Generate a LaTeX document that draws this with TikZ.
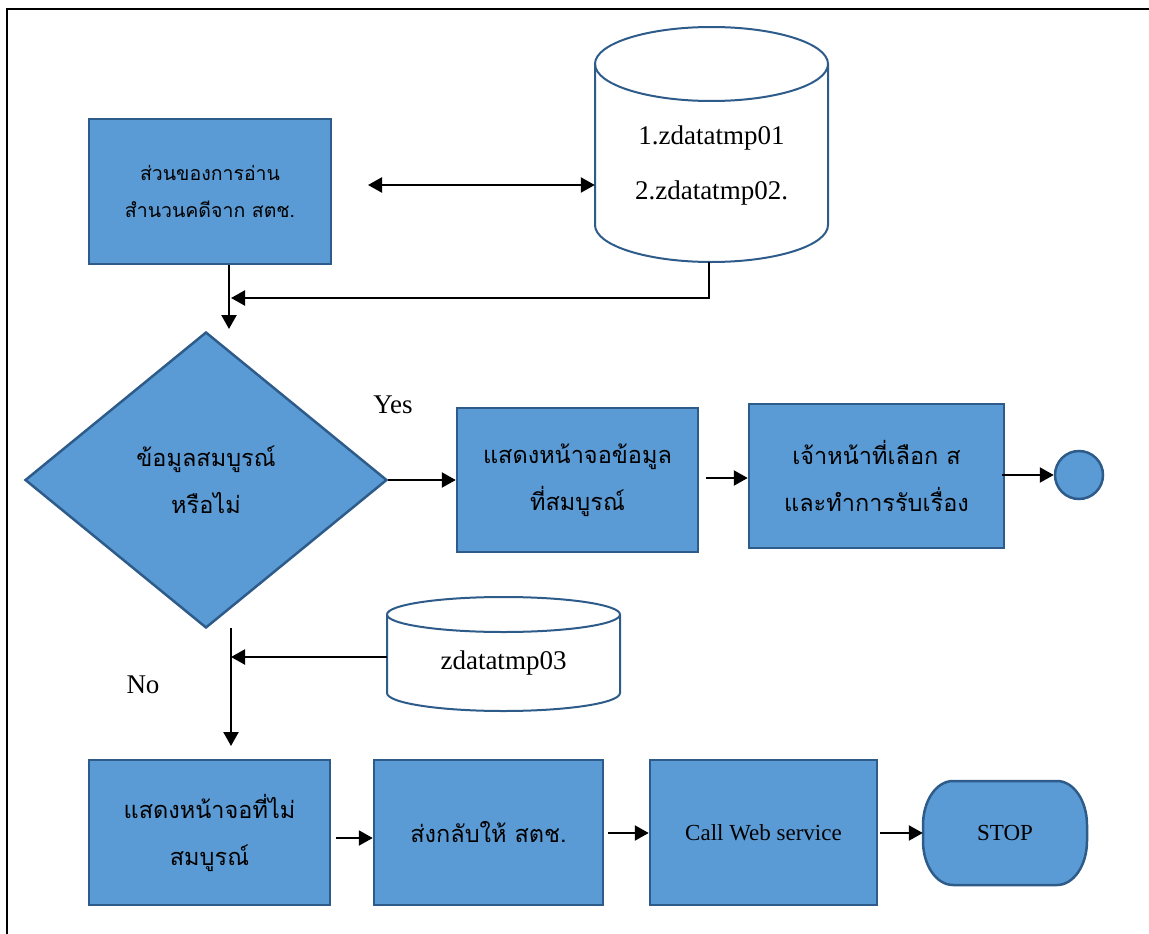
\documentclass[tikz,border=0pt]{standalone}
\usepackage{fontspec}
\setmainfont{Liberation Serif}
\newfontfamily\thai[Script=Thai]{Loma}
\usetikzlibrary{arrows.meta,shapes.geometric,calc}
\definecolor{boxfill}{HTML}{5B9BD5}
\definecolor{boxline}{HTML}{2E5C8A}
\begin{document}
\begin{tikzpicture}[x=1pt,y=-1pt,
  proc/.style={draw=boxline, fill=boxfill, line width=2.5pt, inner sep=0pt, align=center},
  arr/.style={line width=2.3pt, -{Triangle[length=14pt,width=15pt]}},
  darr/.style={line width=2.3pt, {Triangle[length=14pt,width=15pt]}-{Triangle[length=14pt,width=15pt]}},
  dbline/.style={draw=boxline, line width=2pt, fill=white},
  thaibig/.style={font=\thai\fontsize{23.5}{47}\selectfont},
  thaismall/.style={font=\thai\fontsize{19.5}{37}\selectfont},
  latinbig/.style={font=\fontsize{27}{55}\selectfont},
  latinmid/.style={font=\fontsize{23}{30}\selectfont}]
\useasboundingbox (0,0) rectangle (1149,934);
% frame
\draw[line width=2pt] (7,934) -- (7,9) -- (1149,9);

% boxes
\node[proc, thaismall, minimum width=242, minimum height=145] (b1) at (210,191.5) {ส่วนของการอ่าน\\สำนวนคดีจาก สตช.};
\node[proc, thaibig, minimum width=241, minimum height=144] (b2) at (577.5,480) {แสดงหน้าจอข้อมูล\\ที่สมบูรณ์};
\node[proc, thaibig, minimum width=255, minimum height=144] (b3) at (876.5,476) {เจ้าหน้าที่เลือก ส\\และทำการรับเรื่อง};
\node[proc, thaibig, minimum width=241, minimum height=145] (b4) at (209.5,832.5) {แสดงหน้าจอที่ไม่\\สมบูรณ์};
\node[proc, thaibig, minimum width=229, minimum height=145] (b5) at (488.5,832.5) {ส่งกลับให้ สตช.};
\node[proc, latinmid, minimum width=227, minimum height=145] (b6) at (763.5,832.5) {Call Web service};
\node[proc, thaibig, shape=diamond, aspect=1.22, minimum width=362, minimum height=296] (dec) at (206,480) {ข้อมูลสมบูรณ์\\หรือไม่};
\node[draw=boxline, fill=boxfill, line width=2.5pt, circle, minimum size=48] (end1) at (1079,475) {};

% STOP terminator
\path[draw=boxline, fill=boxfill, line width=2.5pt]
  (953,781) -- (1057,781) arc[start angle=-90,end angle=0,x radius=30,y radius=44]
  -- (1087,841) arc[start angle=0,end angle=90,x radius=30,y radius=44]
  -- (953,885) arc[start angle=90,end angle=180,x radius=30,y radius=44]
  -- (923,825) arc[start angle=180,end angle=270,x radius=30,y radius=44] -- cycle;
\node[latinmid, minimum width=164, minimum height=104] (stop) at (1005,833) {STOP};

% cylinder 1
\path[dbline] (595,64) -- (595,225) arc[start angle=180,end angle=0,x radius=116.5,y radius=37]
  -- (828,64) arc[start angle=0,end angle=-180,x radius=116.5,y radius=37] -- cycle;
\draw[boxline, line width=2pt] (595,64) arc[start angle=180,end angle=0,x radius=116.5,y radius=37];
\node[inner sep=0pt, minimum width=233, minimum height=235] (db1) at (711.5,144.5) {};
\node[latinbig, align=center] (db1t) at (711.5,166) {1.zdatatmp01\\2.zdatatmp02.};

% cylinder 2
\path[dbline] (387,614.5) -- (387,693) arc[start angle=180,end angle=0,x radius=116.5,y radius=18]
  -- (620,614.5) arc[start angle=0,end angle=-180,x radius=116.5,y radius=17.5] -- cycle;
\draw[boxline, line width=2pt] (387,614.5) arc[start angle=180,end angle=0,x radius=116.5,y radius=17.5];
\node[inner sep=0pt, minimum width=233, minimum height=114] (db2) at (503.5,654) {};
\node[latinbig] (db2t) at (503.5,663) {zdatatmp03};

% labels
\node[latinbig] (yes) at (393,405) {Yes};
\node[latinbig] (no) at (143,685) {No};

% coordinates
\coordinate (c1) at (229,329);
\coordinate (c2) at (709,298);
\coordinate (c3) at (231,298);
\coordinate (c4) at (368,185);
\coordinate (c5) at (231,628);
\coordinate (c6) at (231,746);
\coordinate (c7) at (231,657);
\coordinate (c8) at (706,478);
\coordinate (c9) at (1002,475);
\coordinate (c10) at (336,838);
\coordinate (c11) at (608,833);
\coordinate (c12) at (880,833);

% connectors
\draw[darr] (c4) -- (db1.west |- c4);
\draw[arr] (b1.south -| c1) -- (c1);
\draw[arr] (db1.south -| c2) -- (c2) -- (c3);
\draw[arr] (dec.east) -- (b2.west |- dec.east);
\draw[arr] (c8) -- (b3.west |- c8);
\draw[arr] (c9) -- (end1.west);
\draw[arr] (c5) -- (c6);
\draw[arr] (db2.west |- c7) -- (c7);
\draw[arr] (c10) -- (b5.west |- c10);
\draw[arr] (c11) -- (b6.west |- c11);
\draw[arr] (c12) -- (stop.west |- c12);
\end{tikzpicture}
\end{document}
